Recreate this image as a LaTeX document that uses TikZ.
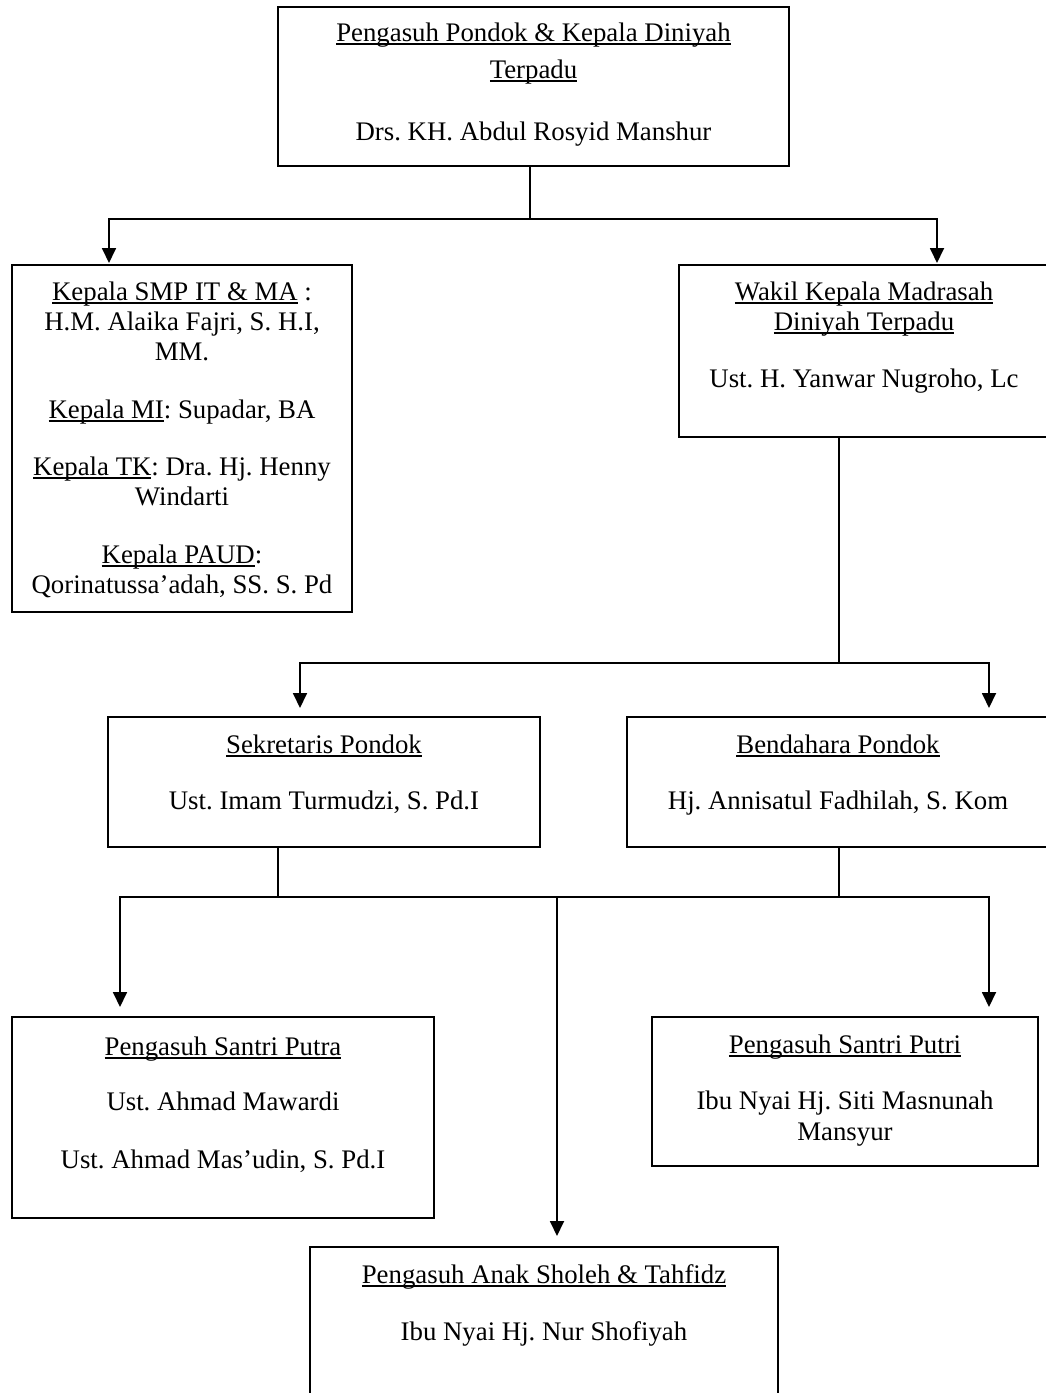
\documentclass[tikz,border=0pt]{standalone}
\usepackage{fontspec}
\setmainfont{Liberation Serif}
\usetikzlibrary{arrows.meta}
\frenchspacing
\newsavebox\ulbox
\newcommand\myul[1]{\sbox\ulbox{#1}\rlap{\rule[-3.5pt]{\wd\ulbox}{1.4pt}}\usebox\ulbox}
\tikzset{
  orgbox/.style={draw, line width=1.6pt, inner sep=0pt, fill=none},
  txt/.style={anchor=base, inner sep=0pt, font=\fontsize{26.8pt}{31pt}\selectfont\frenchspacing},
  conn/.style={line width=1.8pt},
  arr/.style={line width=1.8pt, -{Triangle[width=14pt,length=15pt]}}
}
\begin{document}
\begin{tikzpicture}[x=1pt,y=-1pt]
\useasboundingbox (0,0) rectangle (1045,1393);
% boxes
\node[orgbox, minimum width=511pt, minimum height=159pt] (top) at (533.5,86.5) {};
\node[orgbox, minimum width=340pt, minimum height=347pt] (left) at (182,438.5) {};
\node[orgbox, minimum width=370pt, minimum height=172pt] (wakil) at (864,351) {};
\node[orgbox, minimum width=432pt, minimum height=130pt] (sek) at (324,782) {};
\node[orgbox, minimum width=422pt, minimum height=130pt] (ben) at (838,782) {};
\node[orgbox, minimum width=422pt, minimum height=201pt] (putra) at (223,1117.5) {};
\node[orgbox, minimum width=386pt, minimum height=149pt] (putri) at (845,1091.5) {};
\node[orgbox, minimum width=468pt, minimum height=170pt] (anak) at (544,1332) {};
% texts
\node[txt] (t1) at (533.5,41) {\myul{Pengasuh Pondok \& Kepala Diniyah}};
\node[txt] (t2) at (533.5,78) {\myul{Terpadu}};
\node[txt] (t3) at (533.5,140) {Drs. KH. Abdul Rosyid Manshur};
\node[txt] (l1) at (182,300) {\myul{Kepala SMP IT \& MA} :};
\node[txt] (l2) at (182,330) {H.M. Alaika Fajri, S. H.I,};
\node[txt] (l3) at (182,360) {MM.};
\node[txt] (l4) at (182,418) {\myul{Kepala MI}: Supadar, BA};
\node[txt] (l5) at (182,475) {\myul{Kepala TK}: Dra. Hj. Henny};
\node[txt] (l6) at (182,505) {Windarti};
\node[txt] (l7) at (182,563) {\myul{Kepala PAUD}:};
\node[txt] (l8) at (182,593) {Qorinatussa’adah, SS. S. Pd};
\node[txt] (w1) at (864,300) {\myul{Wakil Kepala Madrasah}};
\node[txt] (w2) at (864,330) {\myul{Diniyah Terpadu}};
\node[txt] (w3) at (864,387) {Ust. H. Yanwar Nugroho, Lc};
\node[txt] (s1) at (324,753) {\myul{Sekretaris Pondok}};
\node[txt] (s2) at (324,809) {Ust. Imam Turmudzi, S. Pd.I};
\node[txt] (b1) at (838,753) {\myul{Bendahara Pondok}};
\node[txt] (b2) at (838,809) {Hj. Annisatul Fadhilah, S. Kom};
\node[txt] (p1) at (223,1055) {\myul{Pengasuh Santri Putra}};
\node[txt] (p2) at (223,1110) {Ust. Ahmad Mawardi};
\node[txt] (p3) at (223,1168) {Ust. Ahmad Mas’udin, S. Pd.I};
\node[txt] (q1) at (845,1053) {\myul{Pengasuh Santri Putri}};
\node[txt] (q2) at (845,1109) {Ibu Nyai Hj. Siti Masnunah};
\node[txt] (q3) at (845,1140) {Mansyur};
\node[txt] (a1) at (544,1283) {\myul{Pengasuh Anak Sholeh \& Tahfidz}};
\node[txt] (a2) at (544,1340) {Ibu Nyai Hj. Nur Shofiyah};
% junction coordinates
\coordinate (j1) at (530,219);
\coordinate (tipL) at (109,263);
\coordinate (tipW) at (937,263);
\coordinate (wb) at (839,437);
\coordinate (j2) at (839,663);
\coordinate (tipS) at (300,708);
\coordinate (tipB) at (989,708);
\coordinate (sb) at (278,847);
\coordinate (bb) at (839,847);
\coordinate (j3a) at (278,897);
\coordinate (j3b) at (839,897);
\coordinate (j3m) at (557,897);
\coordinate (tipP) at (120,1007);
\coordinate (tipQ) at (989,1007);
\coordinate (tipA) at (557,1236);
% connectors
\draw[conn] (top.south -| j1) -- (j1);
\draw[arr] (j1) -| (tipL);
\draw[arr] (j1) -| (tipW);
\draw[conn] (wb) -- (j2);
\draw[arr] (j2) -| (tipS);
\draw[arr] (j2) -| (tipB);
\draw[conn] (sb) -- (j3a);
\draw[conn] (bb) -- (j3b);
\draw[conn] (j3a) -- (j3b);
\draw[arr] (j3a) -| (tipP);
\draw[arr] (j3b) -| (tipQ);
\draw[arr] (j3m) -- (tipA);
\end{tikzpicture}
\end{document}
